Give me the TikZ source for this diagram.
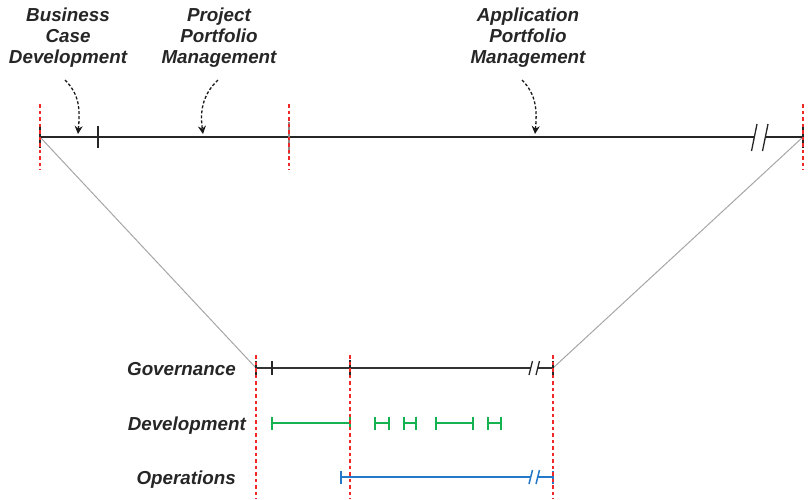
\documentclass[tikz,border=0pt]{standalone}
\usepackage{fontspec}
\setmainfont{Liberation Sans}
\usetikzlibrary{arrows.meta}
\definecolor{devgreen}{RGB}{20,178,80}
\definecolor{opsblue}{RGB}{35,120,200}
\definecolor{dashred}{RGB}{240,40,40}
\tikzset{
  lbl/.style={font=\fontsize{18.8}{21}\selectfont\bfseries\itshape, align=center, inner sep=0pt, text=black!85},
  tl/.style={line width=2.8pt, black!85},
  gov/.style={line width=2.6pt, black!80},
  tick/.style={line width=1.3pt, black!85},
  reddash/.style={dashred, line width=1.4pt, dash pattern=on 3.5pt off 3pt},
  zoomline/.style={black!35, line width=1pt},
  callout/.style={black!90, line width=1.3pt, dash pattern=on 3pt off 2pt, -{Stealth[length=8pt,width=8pt]}},
  devbar/.style={devgreen, line width=2.6pt},
  opsbar/.style={opsblue, line width=2.6pt},
}
\begin{document}
\begin{tikzpicture}[x=1pt,y=-1pt]
\useasboundingbox (0,0) rectangle (811,499);
% labels top
\node[lbl] (bcd) at (68,38) {Business\\Case\\Development};
\node[lbl] (ppm) at (219,38) {Project\\Portfolio\\Management};
\node[lbl] (apm) at (528,38) {Application\\Portfolio\\Management};
% top timeline coordinates
\coordinate (t0) at (40,137);
\coordinate (t1) at (803,137);
\coordinate (tb1) at (754,137);
\coordinate (tb2) at (766,137);
\coordinate (tk) at (98,137);
\coordinate (m1) at (289,137);
\coordinate (abcd) at (78,134);
\coordinate (appm) at (203,134);
\coordinate (aapm) at (535,134);
\coordinate (sbcd) at (65,80);
\coordinate (sppm) at (218,80);
\coordinate (sapm) at (522,80);
% zoom lines
\coordinate (g0) at (256,368);
\coordinate (g1) at (553,368);
\draw[zoomline] (t0) -- (g0);
\draw[zoomline] (t1) -- (g1);
% top timeline
\draw[tl] (t0) -- (tb1);
\draw[tl] (tb2) -- (t1);
\draw[tick] (40,126) -- (40,148);
\draw[tick] (tk) ++(0,-11) -- ++(0,22);
\draw[tick, black!45] (m1) ++(0,-15) -- ++(0,32);
\draw[tick] (803,126) -- (803,148);
\draw[tick] (751.5,151) -- (757,124);
\draw[tick] (762.5,151) -- (768,124);
% callout arrows
\draw[callout] (sbcd) .. controls (80,95) and (80,110) .. (abcd);
\draw[callout] (sppm) .. controls (202,95) and (200,112) .. (appm);
\draw[callout] (sapm) .. controls (537,95) and (537,112) .. (aapm);
% bottom labels
\node[lbl, anchor=base east] (govl) at (236,375) {Governance};
\node[lbl, anchor=base east] (devl) at (246,430) {Development};
\node[lbl, anchor=base east] (opsl) at (236,484) {Operations};
% governance
\draw[gov] (g0) -- (531,368);
\draw[gov] (538,368) -- (g1);
\draw[tick] (256,361) -- (256,375);
\draw[tick] (272,361) -- (272,375);
\draw[tick] (350,360) -- (350,376);
\draw[tick] (553,361) -- (553,375);
\draw[tick] (529,375) -- (532.5,361);
\draw[tick] (536,375) -- (539.5,361);
% development
\foreach \a/\b in {272/350, 375/389, 404/416, 436/473, 488/501}{
  \draw[devbar] (\a,423) -- (\b,423);
  \draw[devbar] (\a,416.5) -- (\a,429.5);
  \draw[devbar] (\b,416.5) -- (\b,429.5);
}
% operations
\draw[opsbar] (341,477) -- (531,477);
\draw[opsbar] (538,477) -- (553,477);
\draw[opsbar] (341,470.5) -- (341,483.5);
\draw[opsbar] (553,470.5) -- (553,483.5);
\draw[opsblue, line width=1.5pt] (529,484) -- (532.5,470);
\draw[opsblue, line width=1.5pt] (536,484) -- (539.5,470);
% red dashed guides (on top)
\draw[reddash] (40,104) -- (40,170);
\draw[reddash] (289,104) -- (289,170);
\draw[reddash] (803,104) -- (803,170);
\draw[reddash] (256,355) -- (256,499);
\draw[reddash] (350,355) -- (350,499);
\draw[reddash] (553,355) -- (553,499);
\end{tikzpicture}
\end{document}
